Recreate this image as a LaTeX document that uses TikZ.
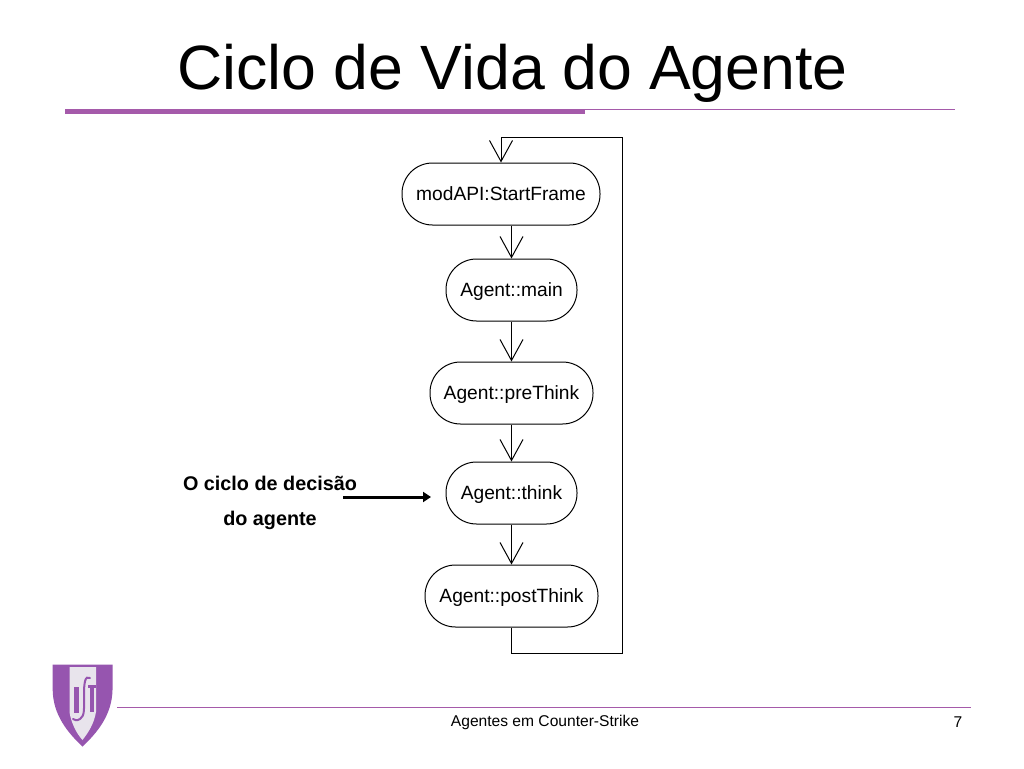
\documentclass[tikz,border=0pt]{standalone}
\usepackage{fontspec}
\setmainfont{Liberation Sans}
\usetikzlibrary{arrows.meta,calc}
\definecolor{ruleviolet}{RGB}{165,90,170}
\definecolor{shieldviolet}{RGB}{150,85,175}
\definecolor{panelgrey}{RGB}{232,228,236}
\tikzset{
  px/.style={x=1pt,y=-1pt},
  activity/.style={draw=black,fill=white,line width=1pt,rounded corners=30.5pt,minimum height=62pt,inner sep=0pt,font=\fontsize{19.2}{22}\selectfont,text=black,text height=14pt,text depth=2pt},
  flow/.style={draw=black,line width=1pt,-{Straight Barb[length=21pt,width=23pt,line width=1pt]}},
  pointer/.style={draw=black,line width=3pt,-{Triangle[length=8pt,width=10pt]}},
  callout/.style={font=\bfseries\fontsize{19.8}{22}\selectfont,text=black,inner sep=0pt},
  footer/.style={font=\fontsize{15.6}{18}\selectfont,text=black,inner sep=0pt},
  thinrule/.style={fill=ruleviolet},
}
\begin{document}
\begin{tikzpicture}[px]
\useasboundingbox (0,0) rectangle (1024,768);
\fill[white] (0,0) rectangle (1024,768);
% title and rules
\node[inner sep=0pt,text=black,font=\fontsize{62.6}{68}\selectfont] (title) at (512.5,73.5) {Ciclo de Vida do Agente};
\fill[thinrule] (65,109) rectangle (955,110.2);
\fill[ruleviolet] (65,109.5) rectangle (585,114);
\fill[thinrule] (117,706.5) rectangle (971,707.7);
% activities
\node[activity,minimum width=198pt] (start) at (501,194) {modAPI:StartFrame};
\node[activity,minimum width=131pt] (main) at (511.5,290) {Agent::main};
\node[activity,minimum width=163pt] (pre) at (511.5,393) {Agent::preThink};
\node[activity,minimum width=131pt] (think) at (511.5,493) {Agent::think};
\node[activity,minimum width=173pt] (post) at (511.5,596) {Agent::postThink};
% connectors
\draw[flow] (start.south -| main.north) -- (main.north);
\draw[flow] (main) -- (pre);
\draw[flow] (pre) -- (think);
\draw[flow] (think) -- (post);
\coordinate (loopa) at (511.5,653);
\coordinate (loopb) at (622,653);
\coordinate (loopc) at (622,137.5);
\coordinate (loopd) at (501,137.5);
\draw[flow] (post.south) -- (loopa) -- (loopb) -- (loopc) -- (loopd) -- (start.north);
% callout
\node[callout] (lineone) at (270,483.5) {O ciclo de decisão};
\node[callout] (linetwo) at (270,520.5) {do agente};
\coordinate (ptrstart) at (343,497);
\coordinate (ptrend) at (431,497);
\draw[pointer] (ptrstart) -- (ptrend);
% footer
\node[footer] (foot) at (545,722) {Agentes em Counter-Strike};
\node[footer] (page) at (958,722) {7};
% shield
\fill[shieldviolet] (52.7,664.5) -- (112.5,664.5) -- (112.5,690)
  .. controls (112,715) and (97,733) .. (82.5,746.5)
  .. controls (68,733) and (53,715) .. (52.7,690) -- cycle;
\fill[panelgrey] (69.5,667) -- (96,667) -- (96,712)
  .. controls (94,724) and (88,733) .. (82.5,740)
  .. controls (76,733) and (71,722) .. (69.5,712) -- cycle;
\fill[shieldviolet] (73.5,687) rectangle (79,713);
\fill[shieldviolet] (90,688) rectangle (93.5,712);
\fill[shieldviolet] (88,685) rectangle (95.5,688);
\draw[shieldviolet,line width=2pt,line cap=round]
  (90,678) .. controls (85,675) and (84,683) .. (84,695)
  .. controls (84,708) and (85,716) .. (80,719) .. controls (77,721) and (74,720) .. (73,719);
\end{tikzpicture}
\end{document}
